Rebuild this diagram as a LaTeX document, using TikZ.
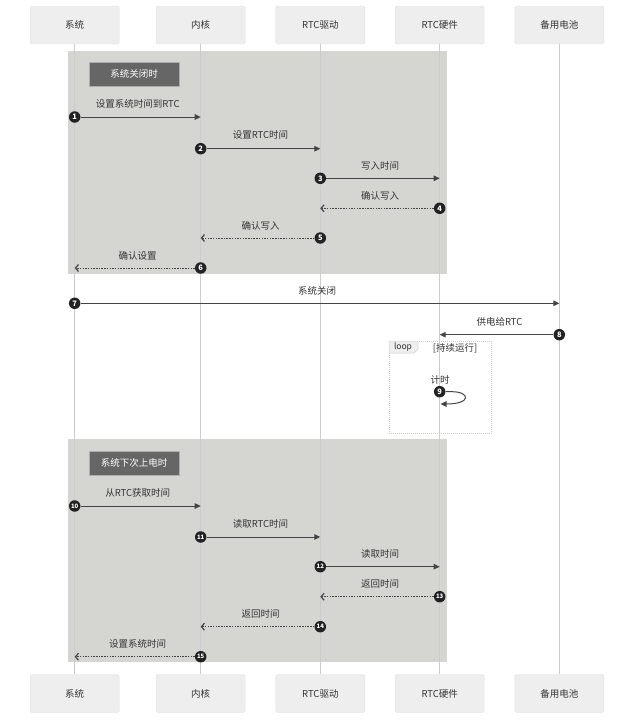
\documentclass[tikz,border=0pt]{standalone}
\usepackage{fontspec}
\setmainfont{Noto Sans CJK SC}
\usetikzlibrary{arrows.meta}
\definecolor{partfill}{HTML}{EEEEEE}
\definecolor{partdraw}{HTML}{DDDDDD}
\definecolor{lifec}{HTML}{CCCCCC}
\definecolor{grpfill}{HTML}{D5D5D1}
\definecolor{tagfill}{HTML}{666666}
\definecolor{msgc}{HTML}{444444}
\definecolor{txtc}{HTML}{333333}
\definecolor{numc}{HTML}{222222}
\tikzset{
  part/.style={draw=partdraw, fill=partfill, rounded corners=1.5pt, minimum width=89pt, minimum height=38pt, inner sep=0pt, font=\fontsize{9.5}{11}\selectfont, text=txtc},
  life/.style={draw=lifec, line width=0.8pt},
  grp/.style={fill=grpfill, draw=none},
  tag/.style={fill=tagfill, draw=partdraw!60!tagfill, minimum width=90pt, minimum height=24pt, inner sep=0pt, text=white, font=\fontsize{9.5}{11}\selectfont},
  num/.style={circle, fill=numc, inner sep=0pt, minimum size=11.5pt, text=white, font=\fontsize{7.5}{8}\selectfont\bfseries},
  numw/.style={num, font=\fontsize{6}{7}\selectfont\bfseries},
  msg/.style={draw=msgc, line width=1pt, -{Triangle[length=6pt,width=5.5pt]}},
  ret/.style={draw=msgc, line width=1pt, dash pattern=on 1.5pt off 1.2pt, -{Straight Barb[length=3pt,width=7pt,line width=1.2pt]}},
  lbl/.style={font=\fontsize{9.5}{11}\selectfont, text=txtc, inner sep=0pt},
  loopframe/.style={draw=lifec, line width=0.6pt, dash pattern=on 1pt off 1pt},
}
\begin{document}
\begin{tikzpicture}[x=1pt,y=-1pt]
\useasboundingbox (0,0) rectangle (634,720);
% participants
\node[part] (p1t) at (74.7,25) {系统};
\node[part] (p2t) at (200.7,25) {内核};
\node[part] (p3t) at (320.3,25) {RTC驱动};
\node[part] (p4t) at (439.7,25) {RTC硬件};
\node[part] (p5t) at (559.3,25) {备用电池};
\node[part] (p1b) at (74.7,693.5) {系统};
\node[part] (p2b) at (200.7,693.5) {内核};
\node[part] (p3b) at (320.3,693.5) {RTC驱动};
\node[part] (p4b) at (439.7,693.5) {RTC硬件};
\node[part] (p5b) at (559.3,693.5) {备用电池};
% groups
\fill[grp] (68,51) rectangle (446.7,273.7);
\fill[grp] (68,439.3) rectangle (446.7,662);
% lifelines
\draw[life] (p1t.south) -- (p1b.north);
\draw[life] (p2t.south) -- (p2b.north);
\draw[life] (p3t.south) -- (p3b.north);
\draw[life] (p4t.south) -- (p4b.north);
\draw[life] (p5t.south) -- (p5b.north);
% group tags
\node[tag] (g1) at (134,74) {系统关闭时};
\node[tag] (g2) at (134,463) {系统下次上电时};
% loop frame
\draw[loopframe] (389,341) rectangle (491.5,433);
\path[fill=partfill, draw=lifec, line width=0.5pt] (389,341) -- (418,341) -- (418,349) -- (414,353) -- (389,353) -- cycle;
\node[lbl, font=\fontsize{8.5}{10}\selectfont] (looplbl) at (403,347) {loop};
\node[lbl] (loopcond) at (455,348) {[持续运行]};
% messages
\coordinate (e1) at (200.7,117);
\node[num] (n1) at (74.7,117) {1};
\draw[msg] (n1) -- (e1);
\node[lbl] (l1) at (137.7,103.5) {设置系统时间到RTC};
\coordinate (e2) at (320.3,148.7);
\node[num] (n2) at (200.7,148.7) {2};
\draw[msg] (n2) -- (e2);
\node[lbl] (l2) at (260.5,135) {设置RTC时间};
\coordinate (e3) at (439.7,178.3);
\node[num] (n3) at (320.3,178.3) {3};
\draw[msg] (n3) -- (e3);
\node[lbl] (l3) at (380,166) {写入时间};
\coordinate (e4) at (320.3,208.3);
\node[num] (n4) at (439.7,208.3) {4};
\draw[ret] (n4) -- (e4);
\node[lbl] (l4) at (380,196) {确认写入};
\coordinate (e5) at (200.7,238);
\node[num] (n5) at (320.3,238) {5};
\draw[ret] (n5) -- (e5);
\node[lbl] (l5) at (260.5,226) {确认写入};
\coordinate (e6) at (74.7,268);
\node[num] (n6) at (200.7,268) {6};
\draw[ret] (n6) -- (e6);
\node[lbl] (l6) at (137.7,256) {确认设置};
\coordinate (e7) at (559.3,303.3);
\node[num] (n7) at (74.7,303.3) {7};
\draw[msg] (n7) -- (e7);
\node[lbl] (l7) at (317,291) {系统关闭};
\coordinate (e8) at (439.7,334.7);
\node[num] (n8) at (559.3,334.7) {8};
\draw[msg] (n8) -- (e8);
\node[lbl] (l8) at (499.5,322) {供电给RTC};
% self loop
\node[num] (n9) at (439.7,391.7) {9};
\coordinate (s9a) at (452,391.7);
\coordinate (s9b) at (440.5,404);
\draw[draw=msgc, line width=1pt, -{Triangle[length=6pt,width=5.5pt]}] (n9) -- (s9a) .. controls (470,391.7) and (472,404) .. (s9b);
\node[lbl] (l9) at (440,379.5) {计时};
% second group messages
\coordinate (e10) at (200.7,506);
\node[numw] (n10) at (74.7,506) {10};
\draw[msg] (n10) -- (e10);
\node[lbl] (l10) at (137.7,492.5) {从RTC获取时间};
\coordinate (e11) at (320.3,537);
\node[numw] (n11) at (200.7,537) {11};
\draw[msg] (n11) -- (e11);
\node[lbl] (l11) at (260.5,523.5) {读取RTC时间};
\coordinate (e12) at (439.7,566.7);
\node[numw] (n12) at (320.3,566.7) {12};
\draw[msg] (n12) -- (e12);
\node[lbl] (l12) at (380,554) {读取时间};
\coordinate (e13) at (320.3,596.7);
\node[numw] (n13) at (439.7,596.7) {13};
\draw[ret] (n13) -- (e13);
\node[lbl] (l13) at (380,584) {返回时间};
\coordinate (e14) at (200.7,626.7);
\node[numw] (n14) at (320.3,626.7) {14};
\draw[ret] (n14) -- (e14);
\node[lbl] (l14) at (260.5,614) {返回时间};
\coordinate (e15) at (74.7,656.7);
\node[numw] (n15) at (200.7,656.7) {15};
\draw[ret] (n15) -- (e15);
\node[lbl] (l15) at (137.7,644) {设置系统时间};
\end{tikzpicture}
\end{document}
